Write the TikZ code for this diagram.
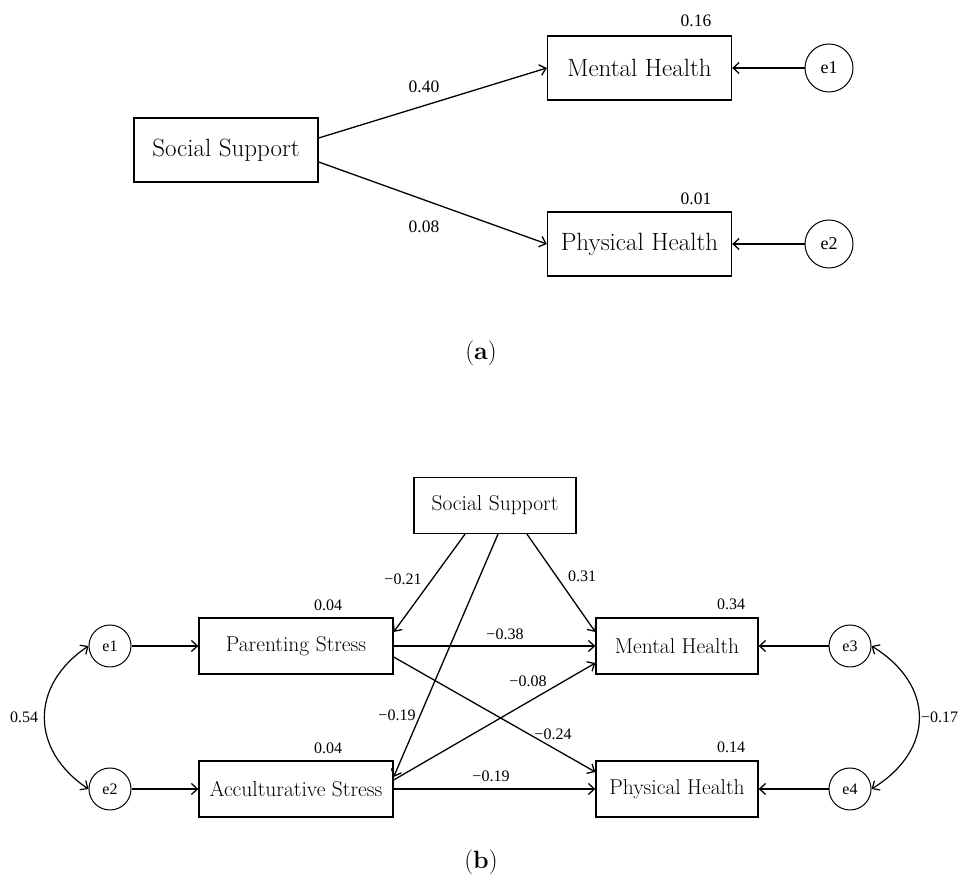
\documentclass[tikz,border=0pt]{standalone}
\usepackage{fontspec}
\newfontfamily\numfont{Liberation Serif}
\usetikzlibrary{arrows.meta}
\tikzset{
  boxa/.style={draw, line width=1.4pt, minimum width=184pt, minimum height=64pt, inner sep=0pt, font=\fontsize{25}{29}\selectfont},
  boxb/.style={draw, line width=1.3pt, minimum height=56pt, inner sep=0pt, font=\fontsize{21.5}{25}\selectfont},
  erra/.style={draw, circle, line width=1pt, minimum size=48pt, inner sep=0pt, font=\numfont\fontsize{18}{20}\selectfont},
  errb/.style={draw, circle, line width=1pt, minimum size=42pt, inner sep=0pt, font=\numfont\fontsize{16}{18}\selectfont},
  numa/.style={inner sep=0pt, font=\numfont\fontsize{17.5}{20}\selectfont},
  numb/.style={inner sep=0pt, font=\numfont\fontsize{16}{18}\selectfont},
  conn/.style={line width=1.3pt, -{Straight Barb[length=6pt,width=11pt]}},
  cov/.style={line width=1.2pt, {Straight Barb[length=6pt,width=11pt]}-{Straight Barb[length=6pt,width=11pt]}},
  capt/.style={inner sep=0pt, font=\fontsize{25}{29}\selectfont}
}
\begin{document}
\begin{tikzpicture}[x=1pt,y=1pt]
\useasboundingbox (0,0) rectangle (959,880);
% ---------- (a) ----------
\node[boxa] (SSa) at (226,730) {Social Support};
\node[boxa] (MHa) at (639.5,812) {Mental Health};
\node[boxa] (PHa) at (639.5,636) {Physical Health};
\node[erra] (e1a) at (829,812) {e1};
\node[erra] (e2a) at (829,636) {e2};
\draw[conn] ([yshift=12pt]SSa.east) -- (MHa.west);
\draw[conn] ([yshift=-12pt]SSa.east) -- (PHa.west);
\draw[conn] (e1a) -- (MHa);
\draw[conn] (e2a) -- (PHa);
\node[numa] (l040) at (424,793) {0.40};
\node[numa] (l008) at (424,653) {0.08};
\node[numa] (l016) at (696,859) {0.16};
\node[numa] (l001) at (696,681) {0.01};
\node[capt] (capa) at (481,527) {(\textbf{a})};
% ---------- (b) ----------
\node[boxb, minimum width=162pt] (SSb) at (495,374.5) {Social Support};
\node[boxb, minimum width=194pt] (PS) at (296,234) {Parenting Stress};
\node[boxb, minimum width=194pt] (AS) at (296,91) {Acculturative Stress};
\node[boxb, minimum width=162pt] (MHb) at (677,234) {Mental Health};
\node[boxb, minimum width=162pt] (PHb) at (677,91) {Physical Health};
\node[errb] (e1b) at (110,234) {e1};
\node[errb] (e2b) at (110,91) {e2};
\node[errb] (e3b) at (850,234) {e3};
\node[errb] (e4b) at (850,91) {e4};
\draw[conn] (e1b) -- (PS);
\draw[conn] (e2b) -- (AS);
\draw[conn] (e3b) -- (MHb);
\draw[conn] (e4b) -- (PHb);
\draw[conn] ([xshift=-30pt]SSb.south) -- ([yshift=14pt]PS.east);
\draw[conn] ([xshift=32pt]SSb.south) -- ([yshift=14pt]MHb.west);
\draw[conn] ([xshift=3pt]SSb.south) -- ([yshift=12pt]AS.east);
\draw[conn] (PS.east) -- (MHb.west);
\draw[conn] ([yshift=-11pt]PS.east) -- ([yshift=17pt]PHb.west);
\draw[conn] ([yshift=9pt]AS.east) -- ([yshift=-17pt]MHb.west);
\draw[conn] (AS.east) -- (PHb.west);
\draw[cov] (e1b.west) .. controls (30,195) and (30,130) .. (e2b.west);
\draw[cov] (e3b.east) .. controls (935,195) and (935,130) .. (e4b.east);
\node[numb] (n1) at (328,275) {0.04};
\node[numb] (n2) at (328,132) {0.04};
\node[numb] (n3) at (731,276) {0.34};
\node[numb] (n4) at (731,133) {0.14};
\node[numb] (n5) at (403,301) {−0.21};
\node[numb] (n6) at (582,304) {0.31};
\node[numb] (n7) at (397,165) {−0.19};
\node[numb] (n8) at (505,246) {−0.38};
\node[numb] (n9) at (528,199) {−0.08};
\node[numb] (n10) at (553,146) {−0.24};
\node[numb] (n11) at (491,104) {−0.19};
\node[numb] (n12) at (24,163) {0.54};
\node[numb, anchor=west] (n13) at (921,163) {−0.17};
\node[capt] (capb) at (481,18) {(\textbf{b})};
\end{tikzpicture}
\end{document}
